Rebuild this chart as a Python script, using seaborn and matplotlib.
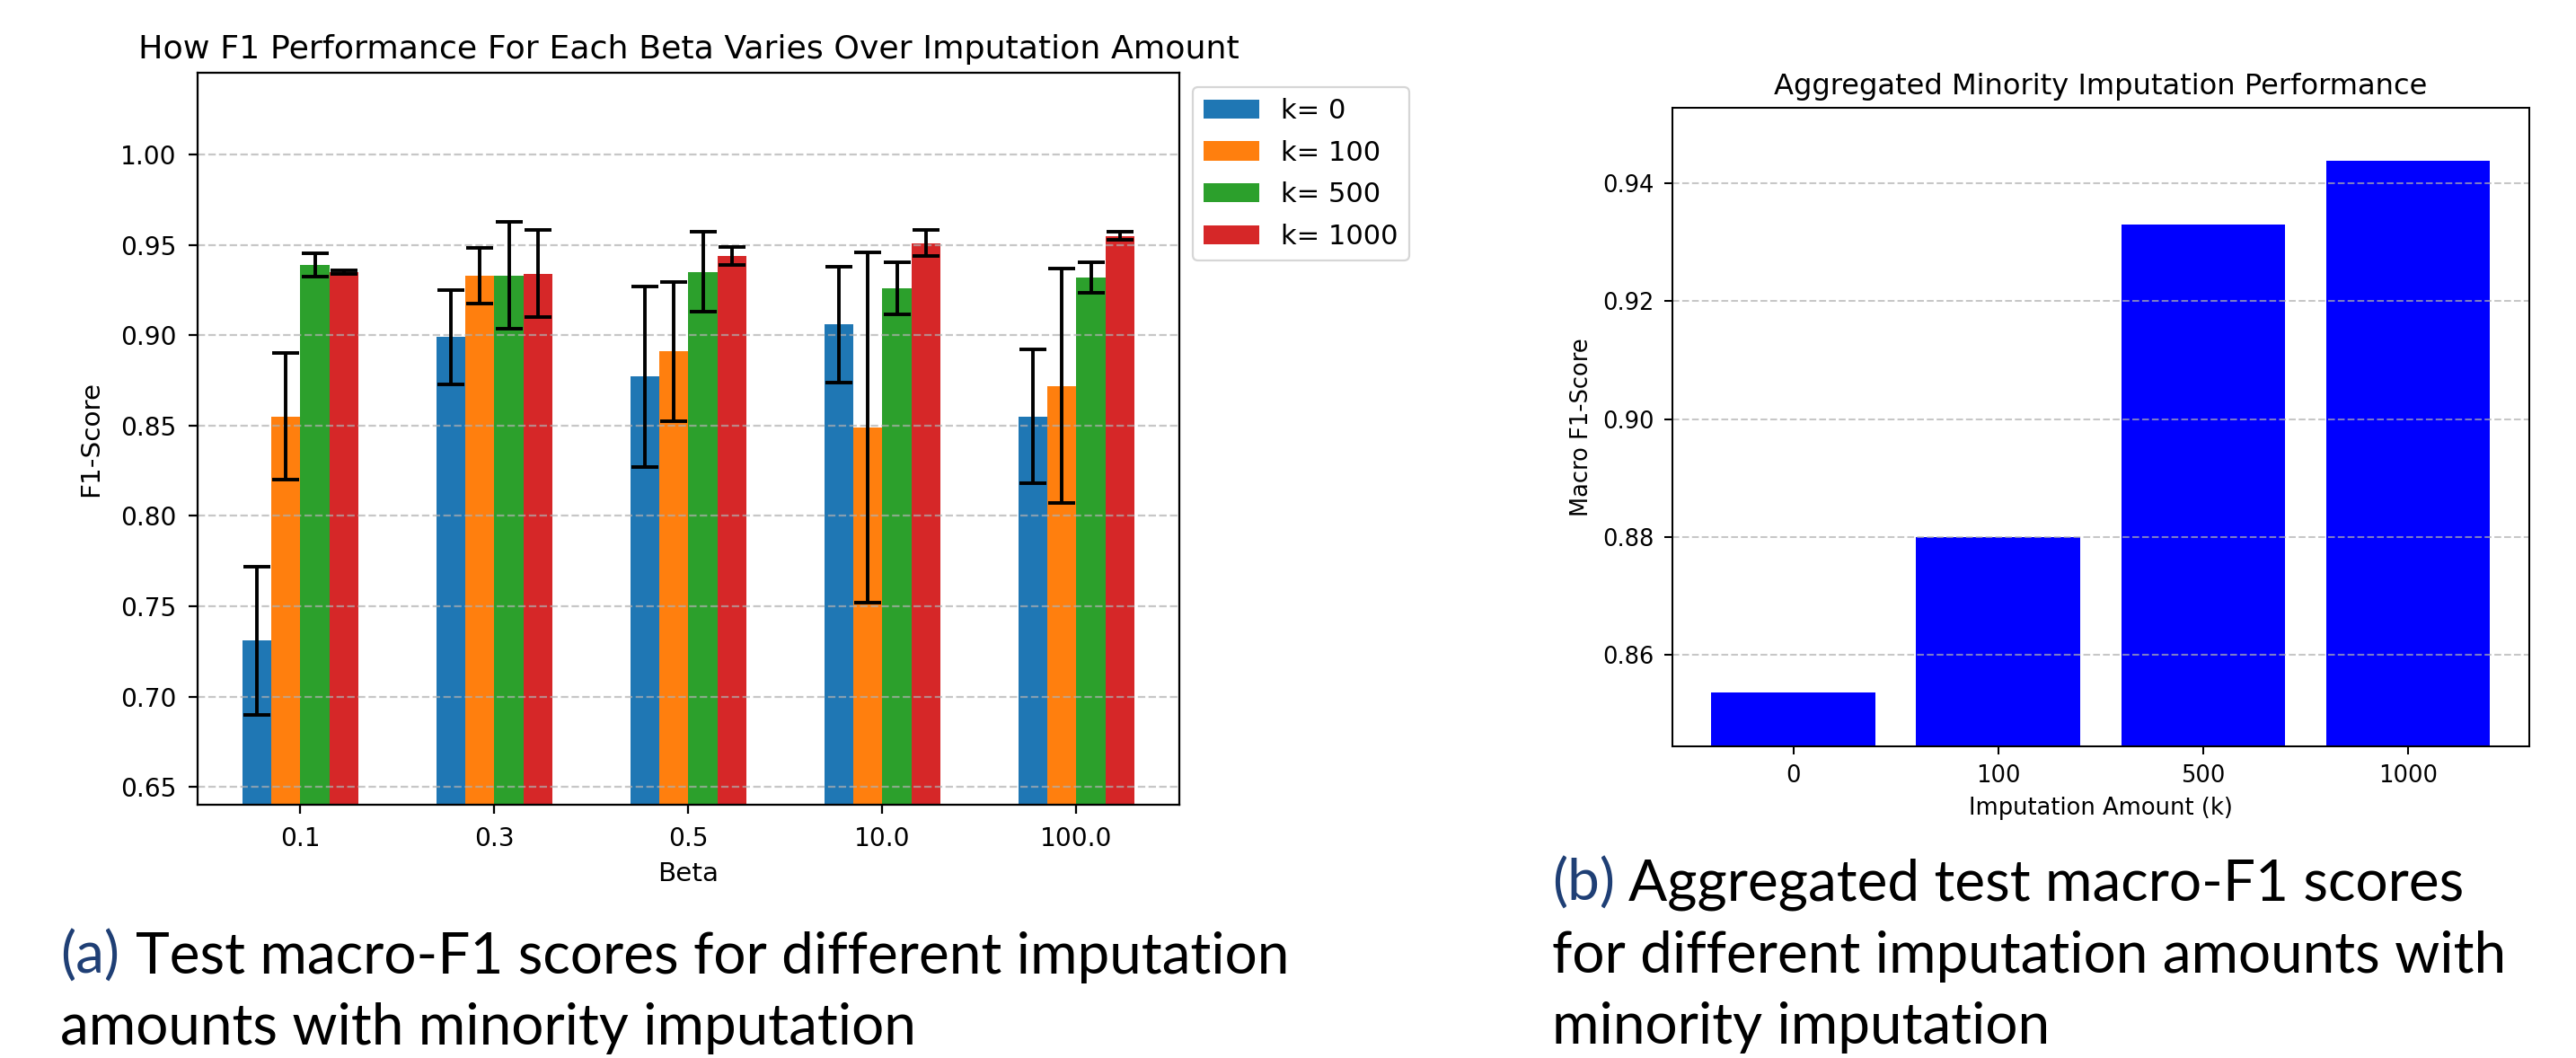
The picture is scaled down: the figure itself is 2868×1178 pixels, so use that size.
import numpy as np
import pandas as pd
import matplotlib
matplotlib.use("Agg")
import matplotlib.pyplot as plt
import seaborn as sns

# left panel: mean macro-F1 per beta for each imputation amount
betas = ["0.1", "0.3", "0.5", "10.0", "100.0"]
k_labels = ["k= 0", "k= 100", "k= 500", "k= 1000"]

f1_k0 = [0.731, 0.899, 0.877, 0.906, 0.855]
f1_k100 = [0.855, 0.933, 0.891, 0.849, 0.872]
f1_k500 = [0.939, 0.933, 0.935, 0.926, 0.932]
f1_k1000 = [0.935, 0.934, 0.944, 0.951, 0.955]

# std for the error bars
err_k0 = [0.041, 0.026, 0.050, 0.032, 0.037]
err_k100 = [0.035, 0.0155, 0.0385, 0.097, 0.065]
err_k500 = [0.0065, 0.0295, 0.022, 0.0145, 0.0085]
err_k1000 = [0.001, 0.024, 0.005, 0.007, 0.002]

# right panel: aggregated scores
agg_amounts = ["0", "100", "500", "1000"]
agg_f1 = [0.8536, 0.8800, 0.9330, 0.9438]

colors = ["#1f77b4", "#ff7f0e", "#2ca02c", "#d62728"]

plt.rcParams["font.family"] = "DejaVu Sans"
fig = plt.figure(figsize=(28.68, 11.78), dpi=100)


def style_axes(ax, s, pad):
    # the two panels were pasted in at different sizes, so scale everything
    for sp in ax.spines.values():
        sp.set_linewidth(0.8 * s)
    ax.tick_params(labelsize=10 * s, width=0.8 * s, length=3.5 * s, pad=pad)
    ax.grid(axis="y", linestyle="--", alpha=0.7, linewidth=0.8 * s)
    ax.set_axisbelow("line")


# ---- (a) ----
sl = 2.02
ax1 = fig.add_axes([0.0767, 0.2390, 0.3811, 0.6919])
df = pd.DataFrame({
    "Beta": betas * 4,
    "k": np.repeat(k_labels, len(betas)),
    "F1": f1_k0 + f1_k100 + f1_k500 + f1_k1000,
})
sns.barplot(data=df, x="Beta", y="F1", hue="k", order=betas, hue_order=k_labels,
            palette=colors, width=0.6, saturation=1, errorbar=None, ax=ax1)

for cont, errs in zip(ax1.containers, [err_k0, err_k100, err_k500, err_k1000]):
    xs = [p.get_x() + p.get_width() / 2 for p in cont]
    ys = [p.get_height() for p in cont]
    ax1.errorbar(xs, ys, yerr=errs, fmt="none", ecolor="black",
                 elinewidth=2.8, capsize=11, capthick=2.8)

ax1.set_xlim(-0.53, 4.53)
ax1.set_ylim(0.64, 1.045)
style_axes(ax1, sl, 10)
ax1.set_title("How F1 Performance For Each Beta Varies Over Imputation Amount",
              fontsize=26.2, pad=6 * sl)
ax1.set_xlabel("Beta", fontsize=10.5 * sl, labelpad=4 * sl)
ax1.set_ylabel("F1-Score", fontsize=10.5 * sl, labelpad=4 * sl + 5)
sns.move_legend(ax1, "upper left", bbox_to_anchor=(1, 1), title=None,
                fontsize=22, frameon=True, labelspacing=0.58)
ax1.get_legend().get_frame().set_linewidth(0.8 * sl)

# ---- (b) ----
sr = 1.85
ax2 = fig.add_axes([0.6492, 0.2946, 0.3326, 0.6036])
sns.barplot(x=agg_amounts, y=agg_f1, order=agg_amounts, color="blue",
            saturation=1, width=0.8, ax=ax2)
ax2.set_xlim(-0.59, 3.59)
ax2.set_ylim(0.8445, 0.9528)
style_axes(ax2, sr, 8)
ax2.set_title("Aggregated Minority Imputation Performance", fontsize=12.5 * sr, pad=6 * sr)
ax2.set_xlabel("Imputation Amount (k)", fontsize=10 * sr, labelpad=4 * sr)
ax2.set_ylabel("Macro F1-Score", fontsize=10 * sr, labelpad=4 * sr)

# ---- captions ----
W, H = 2868, 1178
cap = dict(family="Lato", weight="normal", fontsize=46, va="baseline")
navy = "#1f3f75"
fig.text(67 / W, 1 - 1084 / H, "(a)", color=navy, **cap)
fig.text(151 / W, 1 - 1084 / H, "Test macro-F1 scores for different imputation", **cap)
fig.text(67 / W, 1 - 1163 / H, "amounts with minority imputation", **cap)

fig.text(1728 / W, 1 - 1003 / H, "(b)", color=navy, **cap)
fig.text(1813 / W, 1 - 1003 / H, "Aggregated test macro-F1 scores", **cap)
fig.text(1728 / W, 1 - 1083 / H, "for different imputation amounts with", **cap)
fig.text(1728 / W, 1 - 1162 / H, "minority imputation", **cap)

fig.savefig("out.png", dpi=100)
